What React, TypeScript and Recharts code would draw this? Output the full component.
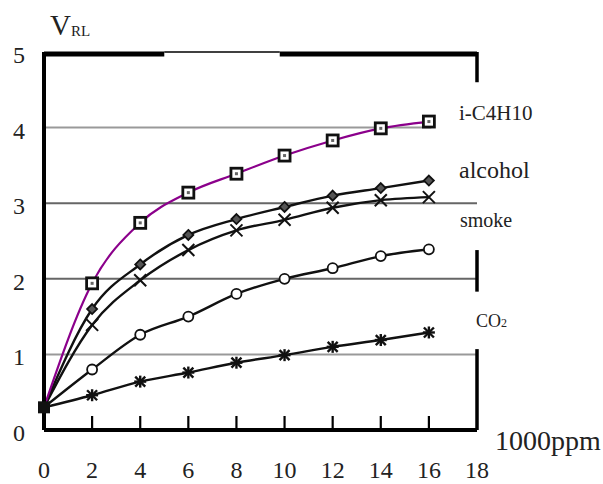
import React from 'react';
import { LineChart, Line, XAxis, YAxis, ReferenceLine } from 'recharts';

// gas concentration (x 1000ppm) vs. load voltage V_RL
const concentrations = [0, 2, 4, 6, 8, 10, 12, 14, 16];
const xTicks = [0, 2, 4, 6, 8, 10, 12, 14, 16, 18];
const yTicks = [0, 1, 2, 3, 4, 5];

const isoButane = [0.3, 1.94, 2.74, 3.14, 3.39, 3.63, 3.83, 3.99, 4.08];
const alcohol = [0.3, 1.6, 2.19, 2.58, 2.79, 2.95, 3.1, 3.2, 3.3];
const smoke = [0.3, 1.39, 1.98, 2.38, 2.64, 2.78, 2.94, 3.04, 3.08];
const circleSeries = [0.3, 0.8, 1.26, 1.5, 1.8, 2.0, 2.14, 2.3, 2.39];
const co2 = [0.3, 0.46, 0.64, 0.76, 0.89, 0.99, 1.1, 1.19, 1.29];

const data = concentrations.map((x, i) => ({
  x,
  iso: isoButane[i],
  alcohol: alcohol[i],
  smoke: smoke[i],
  circle: circleSeries[i],
  co2: co2[i],
}));

const FONT = '"Liberation Serif", "DejaVu Serif", serif';
const TEXT = '#222';

const SquareDot = (props: any) => {
  const { cx, cy, index } = props;
  if (index === 0) {
    return <rect key={`sq-${index}`} x={cx - 6} y={cy - 6} width={12} height={12} fill="#111" />;
  }
  return (
    <g key={`sq-${index}`}>
      <rect x={cx - 5.5} y={cy - 5.5} width={11} height={11} fill="#fff" stroke="#111" strokeWidth={2.8} />
      <rect x={cx - 1.5} y={cy - 1.5} width={3} height={3} fill="#666" />
    </g>
  );
};

const DiamondDot = (props: any) => {
  const { cx, cy, index } = props;
  if (index === 0) return <g key={`di-${index}`} />;
  return (
    <polygon
      key={`di-${index}`}
      points={`${cx},${cy - 5} ${cx + 5},${cy} ${cx},${cy + 5} ${cx - 5},${cy}`}
      fill="#555"
      stroke="#111"
      strokeWidth={1.8}
    />
  );
};

const CrossDot = (props: any) => {
  const { cx, cy, index } = props;
  if (index === 0) return <g key={`cr-${index}`} />;
  return (
    <g key={`cr-${index}`} stroke="#111" strokeWidth={2}>
      <line x1={cx - 6} y1={cy - 6} x2={cx + 6} y2={cy + 6} />
      <line x1={cx - 6} y1={cy + 6} x2={cx + 6} y2={cy - 6} />
    </g>
  );
};

const CircleDot = (props: any) => {
  const { cx, cy, index } = props;
  if (index === 0) return <g key={`ci-${index}`} />;
  return <circle key={`ci-${index}`} cx={cx} cy={cy} r={5} fill="#fff" stroke="#111" strokeWidth={1.8} />;
};

const StarDot = (props: any) => {
  const { cx, cy, index } = props;
  if (index === 0) return <g key={`st-${index}`} />;
  return (
    <g key={`st-${index}`} stroke="#111" strokeWidth={2.4}>
      <line x1={cx - 6} y1={cy} x2={cx + 6} y2={cy} />
      <line x1={cx} y1={cy - 6} x2={cx} y2={cy + 6} />
      <line x1={cx - 5} y1={cy - 5} x2={cx + 5} y2={cy + 5} />
      <line x1={cx - 5} y1={cy + 5} x2={cx + 5} y2={cy - 5} />
    </g>
  );
};

// label below the axis plus a short mark pointing up into the plot
const XTick = (props: any) => {
  const { x, y, payload } = props;
  const v = Number(payload.value);
  const inner = v > 0 && v < 18;
  return (
    <g>
      {inner ? <path d={`M${x},${y - 14}L${x},${y}`} stroke="#000" strokeWidth={2.2} fill="none" /> : null}
      <text x={x} y={y + 48} textAnchor="middle" fontSize={24} fontFamily={FONT} fill={TEXT}>
        {v}
      </text>
    </g>
  );
};

const YTick = (props: any) => {
  const { x, y, payload } = props;
  return (
    <text x={x - 25} y={y + 11} textAnchor="middle" fontSize={24} fontFamily={FONT} fill={TEXT}>
      {payload.value}
    </text>
  );
};

export default function App() {
  return (
    <div style={{ position: 'absolute', left: 0, top: 0, width: 603, height: 484, background: '#fff' }}>
      <LineChart width={603} height={484} data={data} margin={{ top: 52, right: 126, bottom: 0, left: 0 }}>
        {/* grid lines */}
        <ReferenceLine segment={[{ x: 0, y: 4 }, { x: 16.1, y: 4 }]} stroke="#999" strokeWidth={2} />
        <ReferenceLine segment={[{ x: 0, y: 3 }, { x: 18, y: 3 }]} stroke="#666" strokeWidth={2} />
        <ReferenceLine segment={[{ x: 0, y: 2 }, { x: 18, y: 2 }]} stroke="#666" strokeWidth={2} />
        <ReferenceLine segment={[{ x: 0, y: 1 }, { x: 18, y: 1 }]} stroke="#999" strokeWidth={2} />

        {/* broken frame */}
        <ReferenceLine segment={[{ x: 0, y: 4.975 }, { x: 5, y: 4.975 }]} stroke="#000" strokeWidth={5} />
        <ReferenceLine segment={[{ x: 5, y: 5 }, { x: 9.8, y: 5 }]} stroke="#000" strokeWidth={1.5} />
        <ReferenceLine segment={[{ x: 9.8, y: 4.975 }, { x: 18, y: 4.975 }]} stroke="#000" strokeWidth={5} />
        <ReferenceLine segment={[{ x: 18, y: 5 }, { x: 18, y: 4.6 }]} stroke="#000" strokeWidth={3.5} />
        <ReferenceLine segment={[{ x: 18, y: 2.38 }, { x: 18, y: 1.83 }]} stroke="#000" strokeWidth={3.5} />
        <ReferenceLine segment={[{ x: 18, y: 1.07 }, { x: 18, y: 0 }]} stroke="#000" strokeWidth={3.5} />

        <Line type="monotone" dataKey="co2" stroke="#111" strokeWidth={2.4} dot={<StarDot />} isAnimationActive={false} />
        <Line type="monotone" dataKey="circle" stroke="#111" strokeWidth={2.4} dot={<CircleDot />} isAnimationActive={false} />
        <Line type="monotone" dataKey="smoke" stroke="#111" strokeWidth={2.4} dot={<CrossDot />} isAnimationActive={false} />
        <Line type="monotone" dataKey="alcohol" stroke="#111" strokeWidth={2.4} dot={<DiamondDot />} isAnimationActive={false} />
        <Line type="monotone" dataKey="iso" stroke="#8b008b" strokeWidth={2.2} dot={<SquareDot />} isAnimationActive={false} />

        <XAxis
          dataKey="x"
          type="number"
          domain={[0, 18]}
          ticks={xTicks}
          interval={0}
          height={54}
          tickSize={0}
          tickMargin={0}
          tickLine={false}
          axisLine={{ stroke: '#000', strokeWidth: 4 }}
          tick={<XTick />}
        />
        <YAxis
          type="number"
          domain={[0, 5]}
          ticks={yTicks}
          interval={0}
          width={44}
          tickSize={0}
          tickMargin={0}
          tickLine={false}
          axisLine={{ stroke: '#000', strokeWidth: 4 }}
          tick={<YTick />}
        />
      </LineChart>

      <svg width={603} height={484} style={{ position: 'absolute', left: 0, top: 0, pointerEvents: 'none' }}>
        <text x={50} y={35} fontSize={29} fontFamily={FONT} fill={TEXT}>V</text>
        <text x={71} y={36} fontSize={15} fontFamily={FONT} fill={TEXT}>RL</text>
        <text x={459} y={120} fontSize={21} fontFamily={FONT} fill={TEXT}>i-C4H10</text>
        <text x={459} y={178} fontSize={24} fontFamily={FONT} fill={TEXT}>alcohol</text>
        <text x={460} y={227} fontSize={20} fontFamily={FONT} fill={TEXT}>smoke</text>
        <text x={476} y={327} fontSize={18} fontFamily={FONT} fill={TEXT}>
          CO<tspan fontSize={12}>2</tspan>
        </text>
        <text x={495} y={450} fontSize={28} fontFamily={FONT} fill={TEXT}>1000ppm</text>
      </svg>
    </div>
  );
}
